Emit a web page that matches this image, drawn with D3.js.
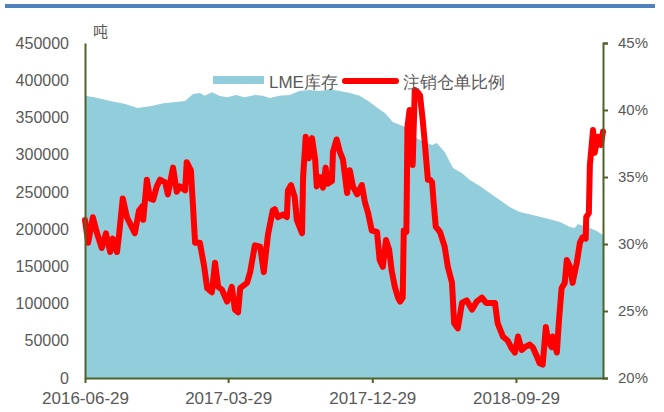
<!DOCTYPE html>
<html>
<head>
<meta charset="utf-8">
<script src="https://cdn.jsdelivr.net/npm/d3@7"></script>
<style>
  body { margin: 0; background: #fff; }
  svg text { font-family: "Liberation Sans", Arial, sans-serif; fill: #595959; }
</style>
</head>
<body>
<div id="holder"></div>
<script>
// LME stock (tons), left axis
const stockDates = [
  "2016-06-29", "2016-07-17", "2016-08-16", "2016-09-14", "2016-10-07", "2016-10-31",
  "2016-11-26", "2016-12-19", "2017-01-06", "2017-01-21", "2017-02-03", "2017-02-12",
  "2017-02-26", "2017-03-12", "2017-03-27", "2017-04-13", "2017-04-29", "2017-05-19",
  "2017-06-03", "2017-06-16", "2017-07-05", "2017-07-24", "2017-08-12", "2017-08-31",
  "2017-09-20", "2017-10-09", "2017-10-28", "2017-11-16", "2017-12-05", "2017-12-24",
  "2018-01-08", "2018-01-22", "2018-02-06", "2018-02-20", "2018-03-07", "2018-03-24",
  "2018-04-08", "2018-04-22", "2018-05-01", "2018-05-16", "2018-06-01", "2018-06-18",
  "2018-07-03", "2018-07-22", "2018-08-10", "2018-08-29", "2018-09-17", "2018-10-06",
  "2018-10-25", "2018-11-23", "2018-12-22", "2019-01-10", "2019-01-19", "2019-01-25",
  "2019-02-17", "2019-03-02", "2019-03-14"
];
const stockValues = [
  379000, 377000, 372000, 368000, 362700, 365000,
  369000, 370700, 372000, 381500, 383000, 379000,
  384000, 379000, 377000, 380000, 377000, 380000,
  379000, 376000, 379000, 380000, 385500, 387000,
  385500, 388000, 385500, 383000, 379000, 370700,
  362700, 356000, 344000, 340000, 336000, 322000,
  317000, 313000, 315600, 303600, 282000, 275000,
  266000, 258000, 248500, 239000, 229700, 223000,
  220000, 215000, 209500, 202800, 201500, 206900,
  201500, 197500, 192000
];

// cancelled warrants ratio (%), right axis
const ratioDates = [
  "2016-06-29", "2016-07-05", "2016-07-14", "2016-07-22", "2016-07-31", "2016-08-08",
  "2016-08-16", "2016-08-21", "2016-08-29", "2016-09-02", "2016-09-09", "2016-09-17",
  "2016-09-27", "2016-10-02", "2016-10-10", "2016-10-16", "2016-10-18", "2016-10-25",
  "2016-10-31", "2016-11-06", "2016-11-13", "2016-11-19", "2016-11-29", "2016-12-04",
  "2016-12-14", "2016-12-21", "2016-12-27", "2017-01-06", "2017-01-09", "2017-01-17",
  "2017-01-21", "2017-01-25", "2017-02-03", "2017-02-11", "2017-02-17", "2017-02-26",
  "2017-03-04", "2017-03-10", "2017-03-17", "2017-03-27", "2017-04-05", "2017-04-11",
  "2017-04-17", "2017-04-21", "2017-05-04", "2017-05-10", "2017-05-19", "2017-05-29",
  "2017-06-05", "2017-06-13", "2017-06-22", "2017-06-26", "2017-07-02", "2017-07-12",
  "2017-07-19", "2017-07-21", "2017-07-27", "2017-08-03", "2017-08-07", "2017-08-17",
  "2017-08-19", "2017-08-24", "2017-08-30", "2017-09-05", "2017-09-11", "2017-09-14",
  "2017-09-20", "2017-09-26", "2017-10-01", "2017-10-05", "2017-10-13", "2017-10-15",
  "2017-10-22", "2017-10-28", "2017-11-03", "2017-11-11", "2017-11-16", "2017-11-22",
  "2017-11-30", "2017-12-09", "2017-12-15", "2017-12-21", "2017-12-28", "2018-01-07",
  "2018-01-12", "2018-01-18", "2018-01-24", "2018-01-30", "2018-02-04", "2018-02-10",
  "2018-02-16", "2018-02-20", "2018-02-25", "2018-02-27", "2018-03-04", "2018-03-06",
  "2018-03-10", "2018-03-16", "2018-03-20", "2018-03-26", "2018-03-30", "2018-04-04",
  "2018-04-08", "2018-04-14", "2018-04-18", "2018-04-22", "2018-04-25", "2018-04-29",
  "2018-05-07", "2018-05-16", "2018-05-22", "2018-05-30", "2018-06-03", "2018-06-10",
  "2018-06-18", "2018-06-27", "2018-07-07", "2018-07-16", "2018-07-26", "2018-08-03",
  "2018-08-10", "2018-08-20", "2018-08-25", "2018-09-04", "2018-09-13", "2018-09-21",
  "2018-09-27", "2018-10-03", "2018-10-10", "2018-10-16", "2018-10-25", "2018-10-31",
  "2018-11-08", "2018-11-13", "2018-11-19", "2018-11-25", "2018-11-29", "2018-12-06",
  "2018-12-08", "2018-12-16", "2018-12-20", "2018-12-25", "2018-12-31", "2019-01-04",
  "2019-01-10", "2019-01-15", "2019-01-23", "2019-01-29", "2019-02-03", "2019-02-09",
  "2019-02-10", "2019-02-15", "2019-02-17", "2019-02-23", "2019-02-26", "2019-03-04",
  "2019-03-10", "2019-03-14"
];
const ratioValues = [
  31.8, 30.1, 32.0, 30.8, 29.7, 30.8,
  29.4, 30.4, 29.4, 30.7, 33.4, 32.0,
  31.2, 30.8, 32.5, 32.8, 31.8, 34.8,
  33.4, 33.3, 34.3, 34.8, 34.6, 33.7,
  35.7, 33.9, 34.3, 34.0, 36.1, 35.5,
  32.8, 30.1, 30.1, 28.4, 26.7, 26.4,
  28.6, 26.8, 26.6, 25.7, 26.8, 25.1,
  24.9, 26.7, 27.1, 27.9, 29.9, 29.8,
  27.9, 30.7, 32.5, 32.6, 32.0, 32.2,
  32.0, 34.0, 34.4, 33.5, 31.8, 30.8,
  35.0, 38.0, 36.4, 37.9, 36.3, 34.3,
  35.0, 34.2, 35.7, 34.5, 34.7, 36.9,
  37.8, 36.9, 36.3, 33.8, 35.5, 34.3,
  33.7, 34.4, 33.1, 32.3, 31.0, 30.9,
  28.8, 28.3, 30.3, 29.6, 28.0, 26.8,
  26.0, 25.7, 26.0, 31.0, 30.9, 38.7,
  40.0, 35.9, 41.5, 41.3, 41.1, 39.3,
  37.6, 34.8, 34.8, 34.6, 33.1, 31.3,
  30.9, 29.8, 28.3, 27.1, 24.1, 23.7,
  25.6, 25.8, 25.1, 25.7, 26.0, 25.6,
  25.6, 25.6, 24.1, 23.1, 22.8, 22.2,
  21.9, 23.1, 22.1, 22.3, 22.5, 22.3,
  21.6, 21.1, 21.0, 23.8, 22.8, 22.3,
  23.1, 21.9, 24.3, 26.7, 27.1, 28.8,
  28.3, 27.1, 28.6, 30.1, 30.5, 30.4,
  32.0, 32.3, 35.9, 38.5, 36.8, 38.0,
  37.4, 38.4
];

const stockTicks = [0, 50000, 100000, 150000, 200000, 250000, 300000, 350000, 400000, 450000];
const ratioTicks = [20, 25, 30, 35, 40, 45];
const dateTicks = ["2016-06-29", "2017-03-29", "2017-12-29", "2018-09-29"];
const seriesNames = ["LME库存", "注销仓单比例"];
const unitLabel = "吨";

const width = 664;
const height = 412;
const plotLeft = 85, plotRight = 603, plotTop = 43, plotBottom = 378;
const axisColor = "#4F6228";
const areaColor = "#92CDDC";
const lineColor = "#FF0000";

const parse = d3.timeParse("%Y-%m-%d");
const fmt = d3.timeFormat("%Y-%m-%d");

const stock = stockDates.map((d, i) => ({ date: parse(d), value: stockValues[i] }));
const ratio = ratioDates.map((d, i) => ({ date: parse(d), value: ratioValues[i] }));

const xScale = d3.scaleTime()
    .domain([parse("2016-06-29"), parse("2019-03-14")])
    .range([plotLeft, plotRight]);
const yLeft = d3.scaleLinear().domain([0, 450000]).range([plotBottom, plotTop]);
const yRight = d3.scaleLinear().domain([20, 45]).range([plotBottom, plotTop]);

const svg = d3.select("#holder")
    .append("svg")
    .attr("width", width)
    .attr("height", height);

// blue bar across the top
svg.append("rect")
    .attr("x", 5)
    .attr("y", 4)
    .attr("width", 650)
    .attr("height", 4)
    .attr("fill", "#4F81BD");

// stock area
const area = d3.area()
    .x(d => xScale(d.date))
    .y0(yLeft(0))
    .y1(d => yLeft(d.value));

svg.append("path")
    .datum(stock)
    .attr("d", area)
    .attr("fill", areaColor);

// ratio line
const line = d3.line()
    .x(d => xScale(d.date))
    .y(d => yRight(d.value));

svg.append("path")
    .datum(ratio)
    .attr("d", line)
    .attr("fill", "none")
    .attr("stroke", lineColor)
    .attr("stroke-width", 6)
    .attr("stroke-linejoin", "round")
    .attr("stroke-linecap", "round");

// axes
const leftAxis = d3.axisLeft(yLeft)
    .tickValues(stockTicks)
    .tickSize(0)
    .tickPadding(16)
    .tickFormat(d3.format("d"));

const gLeft = svg.append("g")
    .attr("transform", `translate(${plotLeft}, 0)`)
    .call(leftAxis);

const rightAxis = d3.axisRight(yRight)
    .tickValues(ratioTicks)
    .tickSize(5)
    .tickPadding(10)
    .tickFormat(d => d + "%");

const gRight = svg.append("g")
    .attr("transform", `translate(${plotRight}, 0)`)
    .call(rightAxis);

const bottomAxis = d3.axisBottom(xScale)
    .tickValues(dateTicks.map(parse))
    .tickSizeInner(5)
    .tickSizeOuter(0)
    .tickPadding(9)
    .tickFormat(fmt);

const gBottom = svg.append("g")
    .attr("transform", `translate(0, ${plotBottom})`)
    .call(bottomAxis);

[gLeft, gRight, gBottom].forEach(g => {
    g.select(".domain").attr("stroke", axisColor).attr("stroke-width", 2);
    g.selectAll(".tick line").attr("stroke", axisColor).attr("stroke-width", 2);
    g.selectAll("text")
        .attr("fill", "#595959")
        .style("font-family", "'Liberation Sans', Arial, sans-serif");
});
gLeft.selectAll("text").style("font-size", "16px");
gRight.selectAll("text").style("font-size", "15px");
gBottom.selectAll("text").style("font-size", "17px");

// unit label
svg.append("text")
    .attr("x", 93)
    .attr("y", 37)
    .style("font-family", "'Noto Sans CJK SC', sans-serif")
    .style("font-size", "15px")
    .text(unitLabel);

// legend
const legend = svg.append("g")
    .style("font-family", "'Noto Sans CJK SC', sans-serif")
    .style("font-size", "17px");

legend.append("rect")
    .attr("x", 213)
    .attr("y", 76)
    .attr("width", 51)
    .attr("height", 8)
    .attr("fill", areaColor);

legend.append("text")
    .attr("x", 269)
    .attr("y", 88)
    .text(seriesNames[0]);

legend.append("line")
    .attr("x1", 345)
    .attr("x2", 396)
    .attr("y1", 81)
    .attr("y2", 81)
    .attr("stroke", lineColor)
    .attr("stroke-width", 6)
    .attr("stroke-linecap", "round");

legend.append("text")
    .attr("x", 403)
    .attr("y", 88)
    .text(seriesNames[1]);
</script>
</body>
</html>
